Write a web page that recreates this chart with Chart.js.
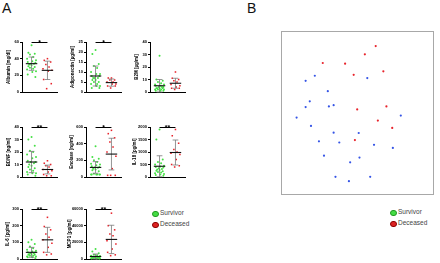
<!DOCTYPE html>
<html>
<head>
<meta charset="utf-8">
<script src="https://cdn.jsdelivr.net/npm/chart.js@4.4.1/dist/chart.umd.min.js"></script>
<style>
    body { margin: 0; width: 440px; height: 263px; background: #fff; position: relative; overflow: hidden;
           font-family: "Liberation Sans", Arial, sans-serif; }
    canvas { position: absolute; }
    .panel { position: absolute; font-size: 14px; color: #111; line-height: 14px; }
    .leg { position: absolute; font-size: 6.5px; color: #444; line-height: 8px; white-space: nowrap; }
    .leg i { position: absolute; left: -8px; top: 1.5px; width: 4.5px; height: 4.5px; border-radius: 50%; }
</style>
</head>
<body>
<div class="panel" style="left:2px;top:1px">A</div>
<div class="panel" style="left:247px;top:1px">B</div>

<div class="leg" style="left:160px;top:209px"><i style="background:#44dd44;border:0.6px solid #229922"></i>Survivor</div>
<div class="leg" style="left:160px;top:220px"><i style="background:#dd2222;border:0.6px solid #8a0000"></i>Deceased</div>
<div class="leg" style="left:398px;top:208px"><i style="background:#44dd44;border:0.6px solid #229922"></i>Survivor</div>
<div class="leg" style="left:398px;top:219px"><i style="background:#dd2222;border:0.6px solid #8a0000"></i>Deceased</div>

<script>
    // ---- panel A: one small dot plot per marker ----
    const yTitles = ['Albumin [mg/dl]', 'Adiponectin [\u00b5g/ml]', 'B2M [\u00b5g/ml]', 'BDNF [ng/ml]',
                     'Enolase [ng/ml]', 'IL-18 [pg/ml]', 'IL-6 [pg/ml]', 'MCP1 [pg/ml]'];
    const yMax   = [60, 25, 40, 40, 600, 2000, 300, 60000];
    const yStep  = [20, 5, 10, 10, 200, 500, 100, 20000];
    const stars  = ['*', '*', '', '**', '*', '**', '**', '**'];

    const albuminS     = [56, 47, 46, 45, 42, 40, 38, 37, 36, 35, 34, 34, 33, 32, 31, 30, 29, 28, 27, 25, 24, 21, 18];
    const albuminD     = [40, 38, 36, 33, 30, 28, 26, 25, 15, 10, 4];
    const adiponectinS = [21, 19, 14, 13, 12, 10, 9, 9, 8, 8, 7, 7, 7, 6, 6, 5, 5, 4, 4, 3, 3, 2, 2];
    const adiponectinD = [7, 7, 6, 6, 5, 5, 4, 4, 3, 3, 2];
    const b2mS         = [29, 10, 9, 8, 7, 6, 6, 5, 5, 4, 4, 4, 3, 3, 3, 3, 2, 2, 2, 2, 1, 1, 1];
    const b2mD         = [16, 11, 10, 9, 8, 6, 5, 4, 3, 3, 2];
    const bdnfS        = [32, 30, 25, 21, 20, 18, 16, 15, 13, 12, 12, 11, 10, 9, 8, 7, 6, 5, 4, 3, 3, 2, 1];
    const bdnfD        = [13, 11, 10, 9, 8, 6, 5, 4, 2, 1, 1];
    const enolaseS     = [370, 240, 220, 200, 180, 160, 150, 140, 130, 120, 115, 110, 100, 90, 80, 70, 40, 30, 30, 30, 30, 30, 30];
    const enolaseD     = [560, 520, 470, 420, 360, 300, 250, 100, 20, 20, 20];
    const il18S        = [1900, 1500, 700, 600, 550, 500, 450, 420, 400, 380, 350, 320, 300, 280, 250, 230, 200, 180, 150, 120, 100, 80, 50];
    const il18D        = [1900, 1650, 1350, 1100, 1000, 950, 900, 700, 500, 450, 400];
    const il6S         = [115, 100, 90, 75, 65, 55, 50, 45, 40, 40, 35, 35, 30, 30, 25, 25, 20, 20, 15, 15, 10, 10, 5];
    const il6D         = [250, 195, 175, 150, 130, 115, 95, 70, 40, 30, 25];
    const mcp1S        = [12000, 9000, 7000, 5000, 4500, 4000, 3500, 3000, 3000, 2500, 2500, 2000, 2000, 1800, 1500, 1500, 1200, 1000, 1000, 800, 600, 500, 300];
    const mcp1D        = [55000, 40000, 35000, 30000, 28000, 22000, 18000, 12000, 8000, 5000, 4000];

    // mean and SD
    const meanS = [34, 8, 5, 12, 115, 430, 40, 3000];
    const sdS   = [8, 5, 5, 8.5, 70, 420, 30, 3000];
    const meanD = [26, 4.7, 7, 6, 275, 980, 115, 23500];
    const sdD   = [11, 1.8, 4, 3.5, 190, 500, 75, 17000];

    const survivors = [albuminS, adiponectinS, b2mS, bdnfS, enolaseS, il18S, il6S, mcp1S];
    const deceased  = [albuminD, adiponectinD, b2mD, bdnfD, enolaseD, il18D, il6D, mcp1D];

    // ---- panel B: 2D embedding ----
    const deceasedB = [
        {x: 61.9, y: 90.8}, {x: 54.8, y: 85.8}, {x: 27.3, y: 80.5}, {x: 41.9, y: 80.1},
        {x: 47.5, y: 73.3}, {x: 66.9, y: 75.4}, {x: 49.8, y: 52.2}, {x: 68.9, y: 54.0},
        {x: 63.3, y: 45.4}, {x: 72.7, y: 40.9}, {x: 48.3, y: 33.5}
    ];
    const survivorB = [
        {x: 22.1, y: 72.7}, {x: 16.1, y: 69.6}, {x: 56.4, y: 71.3}, {x: 30.6, y: 63.3},
        {x: 18.8, y: 57.1}, {x: 34.4, y: 54.8}, {x: 16.1, y: 53.6}, {x: 31.3, y: 54.0},
        {x: 10.2, y: 47.2}, {x: 78.3, y: 48.4}, {x: 19.6, y: 42.1}, {x: 34.4, y: 38.0},
        {x: 50.8, y: 37.8}, {x: 24.8, y: 32.7}, {x: 38.1, y: 32.0}, {x: 60.8, y: 30.6},
        {x: 73.1, y: 28.7}, {x: 28.1, y: 24.0}, {x: 51.3, y: 22.8}, {x: 45.2, y: 19.9},
        {x: 35.6, y: 11.1}, {x: 58.3, y: 11.1}, {x: 44.4, y: 8.4}
    ];

    const GREEN = '#45e045';
    const RED = '#e8232b';
    const BLUE = '#3454e6';

    // fixed horizontal spread pattern for the dots inside a column
    const spread = [0, -0.2, 0.2, -0.1, 0.1, -0.28, 0.28, 0.05, -0.24, 0.24, -0.05, 0.15, -0.15];

    const colAxisX = [22, 86, 150];
    const rowTop = [42, 127, 209];
    const plotH = 52;
    const plotW = 37;
    const padTop = 10;
    const yAxisW = [16, 16, 16, 16, 17, 18, 17, 19];

    function makeErrorPlugin(i) {
        return {
            id: 'errorBars' + i,
            afterDatasetsDraw(chart) {
                const ctx = chart.ctx;
                const x = chart.scales.x;
                const y = chart.scales.y;
                ctx.save();
                [[1, meanS[i], sdS[i]], [2, meanD[i], sdD[i]]].forEach(function(g) {
                    const cx = x.getPixelForValue(g[0]);
                    const hi = y.getPixelForValue(g[1] + g[2]);
                    const lo = y.getPixelForValue(Math.max(0, g[1] - g[2]));
                    const cap = x.getPixelForValue(g[0] + 0.18) - cx;
                    ctx.strokeStyle = '#7a7a7a';
                    ctx.lineWidth = 0.8;
                    ctx.beginPath();
                    ctx.moveTo(cx, hi); ctx.lineTo(cx, lo);
                    ctx.moveTo(cx - cap, hi); ctx.lineTo(cx + cap, hi);
                    ctx.moveTo(cx - cap, lo); ctx.lineTo(cx + cap, lo);
                    ctx.stroke();
                    const half = x.getPixelForValue(g[0] + 0.36) - cx;
                    const my = y.getPixelForValue(g[1]);
                    ctx.strokeStyle = '#111';
                    ctx.lineWidth = 1.1;
                    ctx.beginPath();
                    ctx.moveTo(cx - half, my); ctx.lineTo(cx + half, my);
                    ctx.stroke();
                });
                if (stars[i]) {
                    const x1 = x.getPixelForValue(1);
                    const x2 = x.getPixelForValue(2);
                    const yb = y.getPixelForValue(y.max) + 0.5;
                    ctx.strokeStyle = '#000';
                    ctx.lineWidth = 1;
                    ctx.beginPath();
                    ctx.moveTo(x1, yb); ctx.lineTo(x2, yb);
                    ctx.stroke();
                    ctx.fillStyle = '#000';
                    ctx.font = 'bold 7px "Liberation Sans", Arial';
                    ctx.textAlign = 'center';
                    ctx.textBaseline = 'alphabetic';
                    ctx.fillText(stars[i], (x1 + x2) / 2, yb + 2.5);
                }
                ctx.restore();
            }
        };
    }

    function addCanvas(left, top, w, h) {
        const c = document.createElement('canvas');
        c.width = w;
        c.height = h;
        c.style.left = left + 'px';
        c.style.top = top + 'px';
        document.body.appendChild(c);
        return c;
    }

    survivors.forEach(function(vals, i) {
        const col = i % 3;
        const row = Math.floor(i / 3);
        const left = colAxisX[col] - yAxisW[i];
        const top = rowTop[row] - padTop;
        const canvas = addCanvas(left, top, yAxisW[i] + plotW + 2, padTop + plotH + 2);

        new Chart(canvas, {
            type: 'scatter',
            data: {
                datasets: [
                    {
                        data: vals.map((v, k) => ({ x: 1 + spread[k % spread.length], y: v })),
                        backgroundColor: GREEN,
                        borderColor: GREEN,
                        borderWidth: 0,
                        pointRadius: 1,
                        pointStyle: 'circle'
                    },
                    {
                        data: deceased[i].map((v, k) => ({ x: 2 + spread[k % spread.length], y: v })),
                        backgroundColor: RED,
                        borderColor: RED,
                        borderWidth: 0,
                        pointRadius: 1.1,
                        pointStyle: 'rect'
                    }
                ]
            },
            options: {
                responsive: false,
                animation: false,
                clip: false,
                layout: { padding: { top: padTop, right: 2, bottom: 0, left: 0 } },
                plugins: { legend: { display: false }, tooltip: { enabled: false } },
                scales: {
                    x: {
                        min: 0.4,
                        max: 2.6,
                        grid: { display: false },
                        ticks: { display: false },
                        border: { color: '#000', width: 1 },
                        afterFit: function(s) { s.height = 1; }
                    },
                    y: {
                        min: 0,
                        max: yMax[i],
                        ticks: {
                            stepSize: yStep[i],
                            color: '#000',
                            padding: 1,
                            font: { size: 4, weight: 'bold', family: '"Liberation Sans", Arial' },
                            callback: function(v) { return String(v); }
                        },
                        grid: { drawOnChartArea: false, tickLength: 2, color: '#000' },
                        border: { color: '#000', width: 1 },
                        title: {
                            display: true,
                            text: yTitles[i],
                            color: '#000',
                            padding: 0,
                            font: { size: 4.5, weight: 'bold', family: '"Liberation Sans", Arial' }
                        },
                        afterFit: function(s) { s.width = yAxisW[i]; }
                    }
                }
            },
            plugins: [makeErrorPlugin(i)]
        });
    });

    // panel B frame
    const frame = {
        id: 'frame',
        beforeDatasetsDraw(chart) {
            const a = chart.chartArea;
            const ctx = chart.ctx;
            ctx.save();
            ctx.strokeStyle = '#a8a8a8';
            ctx.lineWidth = 1;
            ctx.strokeRect(a.left + 0.5, a.top + 0.5, a.right - a.left - 1, a.bottom - a.top - 1);
            ctx.restore();
        }
    };

    new Chart(addCanvas(277, 27, 161, 172), {
        type: 'scatter',
        data: {
            datasets: [
                { data: survivorB, backgroundColor: BLUE, borderWidth: 0, pointRadius: 1.1 },
                { data: deceasedB, backgroundColor: RED, borderWidth: 0, pointRadius: 1.1 }
            ]
        },
        options: {
            responsive: false,
            animation: false,
            layout: { padding: 0 },
            plugins: { legend: { display: false }, tooltip: { enabled: false } },
            scales: {
                x: { display: false, min: 0, max: 100 },
                y: { display: false, min: 0, max: 100 }
            }
        },
        plugins: [frame]
    });
</script>
</body>
</html>
